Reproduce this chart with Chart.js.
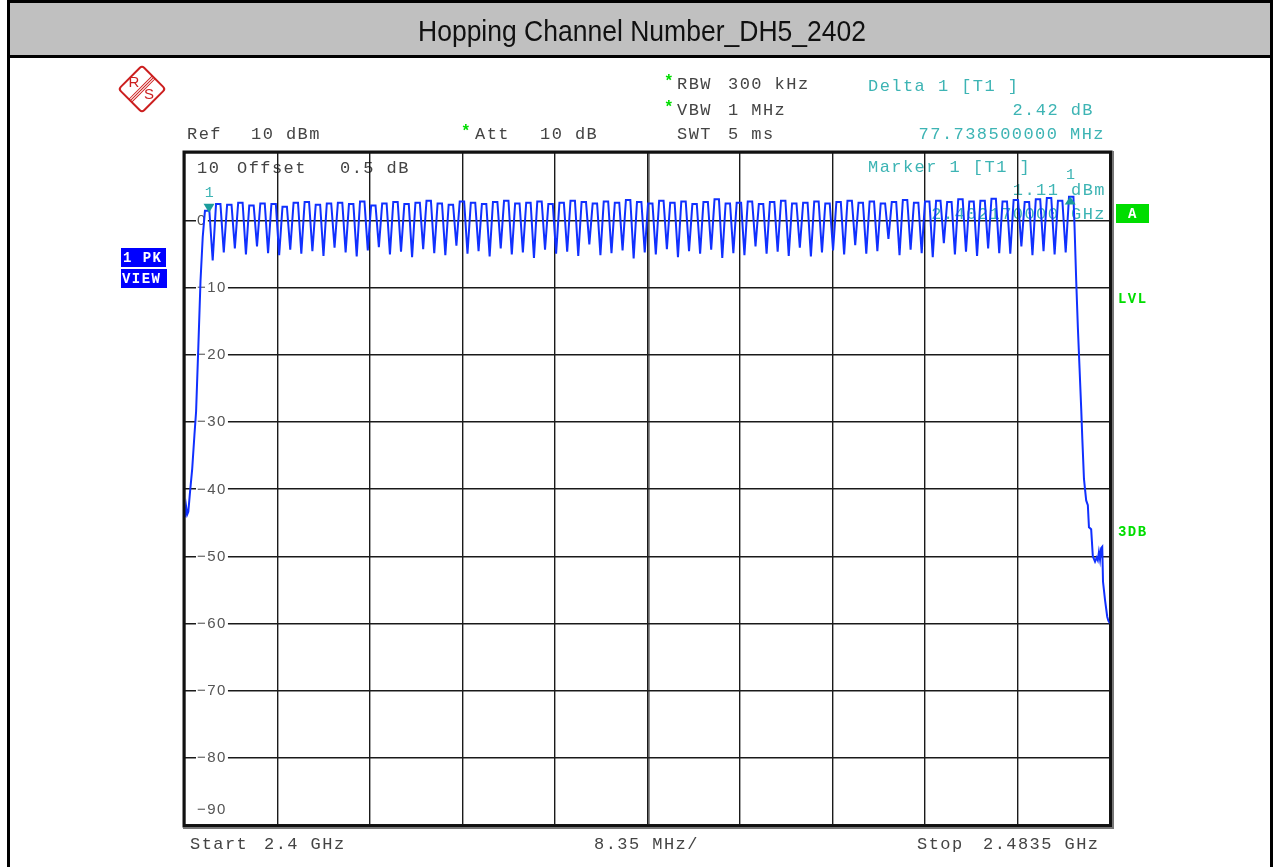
<!DOCTYPE html>
<html>
<head>
<meta charset="utf-8">
<title>Hopping Channel Number_DH5_2402</title>
<script src="https://cdn.jsdelivr.net/npm/chart.js@4.4.1/dist/chart.umd.min.js"></script>
<style>
html, body { margin: 0; padding: 0; background: #fff; }
#wrap { width: 1277px; height: 867px; position: relative; }
</style>
</head>
<body>
<div id="wrap"><canvas id="specChart" width="1277" height="867"></canvas></div>
<script>
// sweep / axis settings
const startMHz = 2400;
const stopMHz = 2483.5;
const refLevel = 10;
const bottomLevel = -90;
const gridFreqs = [2400, 2408.35, 2416.7, 2425.05, 2433.4, 2441.75, 2450.1, 2458.45, 2466.8, 2475.15, 2483.5];
const levelTicks = [0, -10, -20, -30, -40, -50, -60, -70, -80];
const levelTickLabels = ['0', '\u221210', '\u221220', '\u221230', '\u221240', '\u221250', '\u221260', '\u221270', '\u221280'];

// hopping channels (MHz)
const chanFreq = [
    2402, 2403, 2404, 2405, 2406, 2407, 2408, 2409, 2410, 2411,
    2412, 2413, 2414, 2415, 2416, 2417, 2418, 2419, 2420, 2421,
    2422, 2423, 2424, 2425, 2426, 2427, 2428, 2429, 2430, 2431,
    2432, 2433, 2434, 2435, 2436, 2437, 2438, 2439, 2440, 2441,
    2442, 2443, 2444, 2445, 2446, 2447, 2448, 2449, 2450, 2451,
    2452, 2453, 2454, 2455, 2456, 2457, 2458, 2459, 2460, 2461,
    2462, 2463, 2464, 2465, 2466, 2467, 2468, 2469, 2470, 2471,
    2472, 2473, 2474, 2475, 2476, 2477, 2478, 2479, 2480
];
// plateau level of each channel (dBm)
const chanTop = [
    1.4, 2.4, 2.3, 2.6, 2.2, 2.5, 2.4, 2.0, 2.6, 2.7,
    2.3, 2.5, 2.6, 2.4, 2.8, 2.2, 2.5, 2.7, 2.4, 2.6,
    2.9, 2.5, 2.3, 2.8, 2.6, 2.4, 2.7, 2.9, 2.5, 2.6,
    2.8, 2.4, 2.6, 2.9, 2.7, 2.5, 2.8, 2.6, 3.0, 2.7,
    2.5, 2.9, 2.6, 2.8, 2.4, 2.7, 3.1, 2.5, 2.6, 2.8,
    2.4, 2.7, 2.9, 2.5, 2.6, 2.8, 2.5, 2.7, 2.9, 2.6,
    2.8, 2.5, 2.7, 3.0, 2.6, 2.8, 2.9, 2.7, 3.1, 2.8,
    2.9, 3.2, 2.8, 3.0, 2.7, 3.1, 3.3, 2.9, 3.5
];
// dip between channel n and n+1 (dBm)
const chanDip = [
    -6.0, -4.8, -4.2, -5.1, -3.9, -4.9, -5.2, -4.4, -5.0, -4.6,
    -5.3, -4.1, -4.8, -5.4, -4.5, -4.0, -5.1, -4.7, -5.5, -4.3,
    -4.9, -5.2, -3.8, -5.0, -4.6, -5.4, -4.2, -5.1, -4.8, -5.6,
    -4.4, -5.0, -4.7, -5.3, -3.6, -5.2, -4.9, -4.5, -5.7, -4.8,
    -5.1, -4.3, -5.5, -4.6, -5.0, -4.4, -5.6, -4.9, -5.2, -3.9,
    -5.0, -4.7, -5.3, -4.1, -5.4, -4.8, -4.5, -5.1, -3.7, -5.0,
    -4.6, -2.8, -5.2, -4.4, -4.9, -5.5, -3.4, -5.1, -4.7, -5.3,
    -4.2, -4.9, -5.0, -3.9, -5.2, -4.6, -5.1, -4.8
];
// band edges [MHz, dBm]
const leftSkirt = [
    [2400.0, -44.2], [2400.1, -42.6], [2400.2, -43.8], [2400.3, -43.4], [2400.45, -40.5],
    [2400.65, -37], [2400.85, -32], [2401.0, -28.5], [2401.2, -19], [2401.4, -9], [2401.6, -2.5]
];
const rightSkirt = [
    [2480.3, -1], [2480.45, -9], [2480.6, -16], [2480.75, -22], [2480.9, -28], [2481.0, -32.5],
    [2481.15, -38.5], [2481.35, -41.7], [2481.5, -42.4], [2481.6, -45.7], [2481.8, -46],
    [2481.95, -50], [2482.15, -50.8], [2482.3, -50.2], [2482.4, -50.6], [2482.5, -49.4],
    [2482.6, -50.5], [2482.7, -48.8], [2482.8, -48.6], [2482.87, -53.8], [2483.05, -56.5],
    [2483.25, -59], [2483.35, -59.6], [2483.5, -60]
];
const marker1 = { freq: 2402.17, level: 1.11 };
const delta1 = { freq: 2479.9085, level: 3.53 };

let trace = [];
leftSkirt.forEach(function (p) { trace.push({ x: p[0], y: p[1] }); });
for (let i = 0; i < chanFreq.length; i++) {
    trace.push({ x: chanFreq[i] - 0.2, y: chanTop[i] });
    trace.push({ x: chanFreq[i] + 0.2, y: chanTop[i] });
    if (i < chanDip.length) {
        trace.push({ x: chanFreq[i] + 0.5, y: chanDip[i] });
    }
}
rightSkirt.forEach(function (p) { trace.push({ x: p[0], y: p[1] }); });

const MONO = '"Liberation Mono", "Courier New", monospace';
const GREY = '#444';
const TEAL = '#3db4b4';
const GREEN = '#00dd00';

function monoText(ctx, txt, x, y, color, align, bold, size) {
    ctx.save();
    ctx.font = (bold ? 'bold ' : '') + (size || 17) + 'px ' + MONO;
    ctx.letterSpacing = '1.45px';
    ctx.fillStyle = color;
    ctx.textAlign = align || 'left';
    ctx.textBaseline = 'middle';
    ctx.fillText(txt, x, y);
    ctx.restore();
}

function star(ctx, x, y) {
    ctx.save();
    ctx.font = 'bold 16px ' + MONO;
    ctx.fillStyle = GREEN;
    ctx.textAlign = 'left';
    ctx.textBaseline = 'middle';
    ctx.fillText('*', x, y - 2);
    ctx.restore();
}

function drawLogo(ctx) {
    ctx.save();
    ctx.strokeStyle = '#cc1f1f';
    ctx.fillStyle = '#cc1f1f';
    ctx.translate(142, 89);
    ctx.save();
    ctx.rotate(Math.PI / 4);
    ctx.lineWidth = 2;
    ctx.beginPath();
    ctx.roundRect(-16.5, -16.5, 33, 33, 3);
    ctx.stroke();
    ctx.lineWidth = 1;
    [-2, 0, 2].forEach(function (o) {
        ctx.beginPath();
        ctx.moveTo(o, -16.5);
        ctx.lineTo(o, 16.5);
        ctx.stroke();
    });
    ctx.restore();
    ctx.font = '15px "Liberation Sans"';
    ctx.textAlign = 'center';
    ctx.textBaseline = 'middle';
    ctx.fillText('R', -8, -6);
    ctx.fillText('S', 7, 6);
    ctx.restore();
}

const pagePlugin = {
    id: 'pagePlugin',
    beforeDraw: function (chart) {
        const ctx = chart.ctx;
        ctx.save();
        ctx.fillStyle = '#fff';
        ctx.fillRect(0, 0, chart.width, chart.height);

        // title bar
        ctx.fillStyle = '#000';
        ctx.fillRect(7, 0, 1266, 58);
        ctx.fillStyle = '#c0c0c0';
        ctx.fillRect(10, 3, 1260, 52);
        ctx.fillStyle = '#000';
        ctx.fillRect(7, 0, 3, 867);
        ctx.fillRect(1270, 0, 3, 867);

        ctx.font = '29px "Liberation Sans"';
        ctx.fillStyle = '#111';
        ctx.textBaseline = 'middle';
        ctx.textAlign = 'left';
        const title = 'Hopping Channel Number_DH5_2402';
        const w = ctx.measureText(title).width;
        ctx.save();
        ctx.translate(418, 33);
        ctx.scale(448 / w, 1);
        ctx.fillText(title, 0, 0);
        ctx.restore();
        ctx.restore();

        drawLogo(ctx);

        // instrument settings
        star(ctx, 664, 84); monoText(ctx, 'RBW', 677, 84, GREY); monoText(ctx, '300 kHz', 728, 84, GREY);
        star(ctx, 664, 110); monoText(ctx, 'VBW', 677, 110, GREY); monoText(ctx, '1 MHz', 728, 110, GREY);
        monoText(ctx, 'SWT', 677, 134, GREY); monoText(ctx, '5 ms', 728, 134, GREY);
        monoText(ctx, 'Ref', 187, 134, GREY); monoText(ctx, '10 dBm', 251, 134, GREY);
        star(ctx, 461, 134); monoText(ctx, 'Att', 475, 134, GREY); monoText(ctx, '10 dB', 540, 134, GREY);

        monoText(ctx, 'Delta 1 [T1 ]', 868, 86, TEAL);
        monoText(ctx, '2.42 dB', 1094, 110, TEAL, 'right');
        monoText(ctx, '77.738500000 MHz', 1105, 134, TEAL, 'right');

        monoText(ctx, '10', 197, 168, GREY);
        monoText(ctx, 'Offset', 237, 168, GREY);
        monoText(ctx, '0.5 dB', 340, 168, GREY);

        monoText(ctx, 'Marker 1 [T1 ]', 868, 167, TEAL);
        monoText(ctx, '1.11 dBm', 1106, 190, TEAL, 'right');
        monoText(ctx, '2.402170000 GHz', 1106, 214, TEAL, 'right');

        monoText(ctx, 'Start', 190, 844, GREY); monoText(ctx, '2.4 GHz', 264, 844, GREY);
        monoText(ctx, '8.35 MHz/', 594, 844, GREY);
        monoText(ctx, 'Stop', 917, 844, GREY); monoText(ctx, '2.4835 GHz', 983, 844, GREY);

        // side boxes
        ctx.save();
        ctx.fillStyle = '#0000ff';
        ctx.fillRect(121, 248, 45, 19);
        ctx.fillRect(121, 269, 46, 19);
        ctx.fillStyle = GREEN;
        ctx.fillRect(1116, 204, 33, 19);
        ctx.restore();
        monoText(ctx, '1 PK', 123, 258, '#fff', 'left', true, 14);
        monoText(ctx, 'VIEW', 122, 279, '#fff', 'left', true, 14);
        monoText(ctx, 'A', 1133, 214, '#fff', 'center', true, 14);
        monoText(ctx, 'LVL', 1118, 299, GREEN, 'left', true, 14);
        monoText(ctx, '3DB', 1118, 532, GREEN, 'left', true, 14);
    },
    beforeDatasetsDraw: function (chart) {
        const ctx = chart.ctx;
        const y = chart.scales.y;
        const area = chart.chartArea;
        ctx.save();
        // double centre line
        ctx.strokeStyle = '#222';
        ctx.lineWidth = 1;
        const cx = chart.scales.x.getPixelForValue(gridFreqs[5]) + 1.5;
        ctx.beginPath();
        ctx.moveTo(cx, area.top);
        ctx.lineTo(cx, area.bottom);
        ctx.stroke();

        ctx.font = '15px "Liberation Sans"';
        ctx.letterSpacing = '1.5px';
        ctx.textBaseline = 'middle';
        ctx.textAlign = 'left';
        levelTicks.forEach(function (v, i) {
            const py = y.getPixelForValue(v);
            const tw = ctx.measureText(levelTickLabels[i]).width;
            ctx.fillStyle = '#fff';
            ctx.fillRect(area.left + 11, py - 3, tw + 2, 6);
            ctx.fillStyle = '#555';
            ctx.fillText(levelTickLabels[i], area.left + 12, py + 0.5);
        });
        ctx.fillStyle = '#555';
        ctx.fillText('\u221290', area.left + 12, y.getPixelForValue(bottomLevel) - 15);
        ctx.restore();
    },
    afterDatasetsDraw: function (chart) {
        const ctx = chart.ctx;
        const xs = chart.scales.x, ys = chart.scales.y;
        ctx.save();
        ctx.fillStyle = '#1a9c9c';
        let mx = xs.getPixelForValue(marker1.freq), my = ys.getPixelForValue(marker1.level);
        ctx.beginPath();
        ctx.moveTo(mx, my);
        ctx.lineTo(mx - 5.5, my - 9);
        ctx.lineTo(mx + 5.5, my - 9);
        ctx.closePath();
        ctx.fill();
        monoText(ctx, '1', mx + 1, my - 20, TEAL, 'center', false, 15);

        let dx = xs.getPixelForValue(delta1.freq), dy = ys.getPixelForValue(delta1.level);
        ctx.fillStyle = '#1a9c9c';
        ctx.beginPath();
        ctx.moveTo(dx, dy);
        ctx.lineTo(dx - 5.5, dy + 8);
        ctx.lineTo(dx + 5.5, dy + 8);
        ctx.closePath();
        ctx.fill();
        monoText(ctx, '1', dx + 1, dy - 21, TEAL, 'center', false, 15);
        ctx.restore();
    },
    afterDraw: function (chart) {
        const ctx = chart.ctx;
        const a = chart.chartArea;
        ctx.save();
        ctx.strokeStyle = '#111';
        ctx.lineWidth = 3;
        ctx.strokeRect(a.left - 1, a.top - 1, a.right - a.left + 2, a.bottom - a.top + 2);
        ctx.strokeStyle = '#777';
        ctx.lineWidth = 2;
        ctx.beginPath();
        ctx.moveTo(a.left - 2, a.bottom + 3);
        ctx.lineTo(a.right + 3, a.bottom + 3);
        ctx.lineTo(a.right + 3, a.top - 2);
        ctx.stroke();
        ctx.restore();
    }
};

const config = {
    type: 'line',
    data: {
        datasets: [{
            label: '1 PK VIEW',
            data: trace,
            borderColor: '#1030ff',
            backgroundColor: '#1030ff',
            borderWidth: 2,
            pointRadius: 0,
            tension: 0,
            fill: false
        }]
    },
    plugins: [pagePlugin],
    options: {
        responsive: false,
        animation: false,
        events: [],
        layout: {
            padding: { left: 185, right: 167, top: 153, bottom: 42 }
        },
        plugins: {
            legend: { display: false },
            tooltip: { enabled: false },
            title: { display: false }
        },
        scales: {
            x: {
                type: 'linear',
                min: startMHz,
                max: stopMHz,
                afterBuildTicks: function (scale) {
                    scale.ticks = gridFreqs.map(function (v) { return { value: v }; });
                },
                afterFit: function (scale) { scale.height = 0; },
                ticks: { display: false },
                border: { display: false },
                grid: { color: '#1a1a1a', lineWidth: 1.4, drawTicks: false }
            },
            y: {
                type: 'linear',
                min: bottomLevel,
                max: refLevel,
                ticks: { display: false, stepSize: 10 },
                afterFit: function (scale) { scale.width = 0; },
                border: { display: false },
                grid: { color: '#1a1a1a', lineWidth: 1.4, drawTicks: false }
            }
        }
    }
};

const specChart = new Chart(document.getElementById('specChart'), config);
</script>
</body>
</html>
